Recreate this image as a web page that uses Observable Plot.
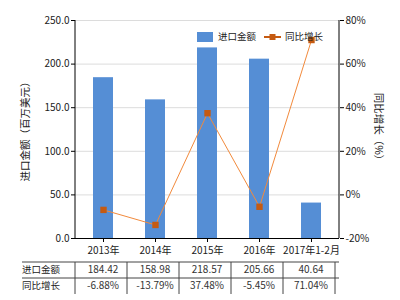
<!DOCTYPE html>
<html><head><meta charset="utf-8">
<script src="https://cdn.jsdelivr.net/npm/d3@7"></script>
<script src="https://cdn.jsdelivr.net/npm/@observablehq/plot@0.6"></script>
<style>
html,body{margin:0;padding:0;background:#fff;}
svg{font-family:"Noto Sans CJK SC","Noto Sans",sans-serif;}
</style></head>
<body><div id="chart"></div>
<script>
const years = ["2013年","2014年","2015年","2016年","2017年1-2月"];
const imports = [184.42, 158.98, 218.57, 205.66, 40.64];
const growth = [-6.88, -13.79, 37.48, -5.45, 71.04];
const leftTicks = [0, 50, 100, 150, 200, 250];
const pctTicks = [-20, 0, 20, 40, 60, 80];
const rowNames = ["进口金额", "同比增长"];
const seriesNames = ["进口金额", "同比增长"];

const barColor = "#558ED5";
const lineColor = "#F28A3C";
const markerColor = "#C55A11";
const font = "Noto Sans CJK SC";

// secondary axis mapping: -20%..80% onto 0..250
const toLeft = p => (p + 20) * 2.5;
const data = years.map((y, i) => ({year: y, value: imports[i], growth: growth[i]}));

const chart = Plot.plot({
  width: 400, height: 300,
  marginLeft: 75, marginRight: 61, marginTop: 20, marginBottom: 62,
  style: {fontFamily: font, fontSize: "10px", color: "#222", background: "#fff"},
  x: {domain: years, paddingInner: 0.62, paddingOuter: 0.31},
  y: {domain: [0, 250]},
  marks: [
    Plot.gridY(leftTicks.filter(d => d > 0), {stroke: "#dcdcdc", strokeOpacity: 1}),
    Plot.barY(data, {x: "year", y: "value", fill: barColor}),
    Plot.axisY(leftTicks, {tickFormat: d => d.toFixed(1), label: null, tickSize: 4, tickPadding: 2, stroke: "#000"}),
    Plot.axisY(pctTicks.map(toLeft), {anchor: "right", tickFormat: v => Math.round(v / 2.5 - 20) + "%", label: null, tickSize: 4, tickPadding: 2, stroke: "#000"}),
    Plot.axisX({label: null, tickSize: 4, tickPadding: 4, stroke: "#000"}),
    Plot.ruleY([0], {stroke: "#000"}),
    Plot.line(data, {x: "year", y: d => toLeft(d.growth), stroke: lineColor, strokeWidth: 1}),
    Plot.dot(data, {x: "year", y: d => toLeft(d.growth), symbol: "square", r: 3.6, fill: markerColor, stroke: "none"})
  ]
});
document.getElementById("chart").appendChild(chart);

const svg = d3.select(chart);
const xs = chart.scale("x");
const ys = chart.scale("y");
const x0 = 75, x1 = 400 - 61;
const yTop = ys.range[1], yBot = ys.range[0];
// vertical axis lines
svg.append("line").attr("x1", x0).attr("x2", x0).attr("y1", yTop).attr("y2", yBot).attr("stroke", "#000");
svg.append("line").attr("x1", x1).attr("x2", x1).attr("y1", yTop).attr("y2", yBot).attr("stroke", "#000");

// axis titles
svg.append("text").attr("transform", `translate(26,${(yTop + yBot) / 2}) rotate(-90)`)
  .attr("text-anchor", "middle").attr("dominant-baseline", "middle")
  .attr("font-size", 10.5).attr("fill", "#222").text("进口金额（百万美元）");
svg.append("text").attr("transform", `translate(378,${(yTop + yBot) / 2}) rotate(90)`)
  .attr("text-anchor", "middle").attr("dominant-baseline", "middle")
  .attr("font-size", 10.5).attr("fill", "#222").text("同比增长（%）");

// legend
const lg = svg.append("g").attr("font-size", 9.5).attr("fill", "#222").attr("text-anchor", "start");
lg.append("rect").attr("x", 197).attr("y", 32).attr("width", 16).attr("height", 10).attr("fill", barColor);
lg.append("text").attr("x", 218).attr("y", 37).attr("dominant-baseline", "middle").text(seriesNames[0]);
lg.append("line").attr("x1", 264).attr("x2", 281).attr("y1", 37).attr("y2", 37).attr("stroke", markerColor).attr("stroke-width", 2);
lg.append("rect").attr("x", 269.5).attr("y", 34).attr("width", 6).attr("height", 6).attr("fill", markerColor);
lg.append("text").attr("x", 285).attr("y", 37).attr("dominant-baseline", "middle").text(seriesNames[1]);

// data table
const step = xs.step;
const tTop = 262, rowH = 16;
const tg = svg.append("g");
[tTop, tTop + rowH].forEach(y => tg.append("line").attr("x1", 22).attr("x2", x1).attr("y1", y).attr("y2", y).attr("stroke", "#444"));
for (let i = 0; i <= years.length; i++) {
  const x = x0 + i * step;
  tg.append("line").attr("x1", x).attr("x2", x).attr("y1", tTop).attr("y2", tTop + 2 * rowH).attr("stroke", "#444");
}
rowNames.forEach((n, r) => tg.append("text").attr("x", 22).attr("y", tTop + rowH * r + rowH / 2)
  .attr("text-anchor", "start")
  .attr("dominant-baseline", "middle").attr("font-size", 9.5).attr("fill", "#222").text(n));
const cx = d => xs.apply(d) + xs.bandwidth / 2;
years.forEach((yr, i) => {
  tg.append("text").attr("x", cx(yr)).attr("y", tTop + rowH / 2).attr("text-anchor", "middle")
    .attr("dominant-baseline", "middle").attr("font-size", 10).attr("fill", "#333").text(imports[i].toFixed(2));
  tg.append("text").attr("x", cx(yr)).attr("y", tTop + rowH * 1.5).attr("text-anchor", "middle")
    .attr("dominant-baseline", "middle").attr("font-size", 10).attr("fill", "#333").text(growth[i].toFixed(2) + "%");
});
</script></body></html>
